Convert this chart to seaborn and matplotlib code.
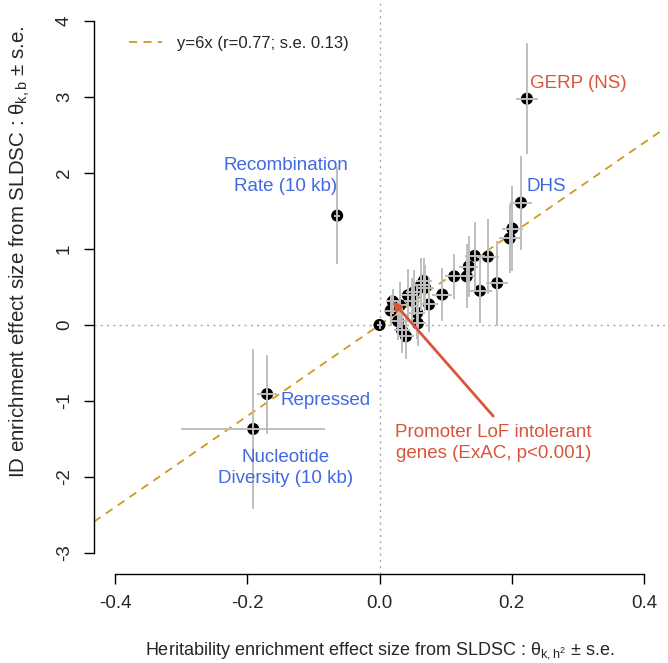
import matplotlib
matplotlib.use("Agg")
import matplotlib.pyplot as plt
import seaborn as sns
import numpy as np
import pandas as pd

# ---- data ----
h2_effect = [0.000, 0.020, 0.017, 0.028, 0.034, 0.040, 0.031, 0.043, 0.049, 0.057,
             0.058, 0.063, 0.069, 0.052, 0.067, 0.075, 0.095, 0.113, 0.132, 0.135,
             0.144, 0.164, 0.152, 0.178, 0.197, 0.201, 0.214, 0.223, -0.064, -0.170,
             -0.191]
h2_se = [0.004, 0.010, 0.010, 0.012, 0.012, 0.012, 0.012, 0.012, 0.012, 0.012,
         0.012, 0.012, 0.012, 0.012, 0.012, 0.014, 0.015, 0.014, 0.014, 0.014,
         0.015, 0.016, 0.018, 0.017, 0.016, 0.016, 0.016, 0.016, 0.005, 0.015,
         0.109]
id_effect = [0.00, 0.31, 0.19, 0.05, -0.07, -0.15, 0.26, 0.39, 0.32, 0.16,
             0.02, 0.53, 0.49, 0.43, 0.58, 0.27, 0.40, 0.64, 0.64, 0.77,
             0.91, 0.90, 0.45, 0.55, 1.14, 1.27, 1.61, 2.98, 1.44, -0.91,
             -1.37]
id_se = [0.05, 0.17, 0.20, 0.25, 0.30, 0.30, 0.30, 0.35, 0.30, 0.35,
         0.30, 0.35, 0.30, 0.30, 0.30, 0.36, 0.35, 0.30, 0.42, 0.40,
         0.45, 0.49, 0.43, 0.56, 0.45, 0.56, 0.62, 0.73, 0.64, 0.52,
         1.05]

fit_slope = 6
legend_label = "y=6x (r=0.77; s.e. 0.13)"

x_ticks = [-0.4, -0.2, 0.0, 0.2, 0.4]
x_tick_labels = ["-0.4", "-0.2", "0.0", "0.2", "0.4"]
y_ticks = [-3, -2, -1, 0, 1, 2, 3, 4]
y_tick_labels = ["-3", "-2", "-1", "0", "1", "2", "3", "4"]

blue_labels = [("Recombination\nRate (10 kb)", -0.142, 1.96),
               ("DHS", 0.252, 1.83),
               ("Repressed", -0.081, -0.99),
               ("Nucleotide\nDiversity (10 kb)", -0.142, -1.88)]
red_labels = [("GERP (NS)", 0.300, 3.18)]
promoter_label = "Promoter LoF intolerant\ngenes (ExAC, p<0.001)"
promoter_text_xy = (0.172, -1.55)
promoter_point = (0.020, 0.31)

df = pd.DataFrame({"h2": h2_effect, "h2_se": h2_se, "id": id_effect, "id_se": id_se})

# ---- style ----
sns.set_style("white")
plt.rcParams["font.family"] = ["Liberation Sans", "DejaVu Sans"]
plt.rcParams["mathtext.fontset"] = "custom"
plt.rcParams["mathtext.rm"] = "Liberation Sans"
plt.rcParams["mathtext.it"] = "Liberation Sans"

BLUE = "#4169E1"
RED = "#D9553B"
GOLD = "#CD9B1D"
GREY = "#BEBEBE"

fig = plt.figure(figsize=(6.68, 6.63), dpi=100)
ax = fig.add_axes([93.9 / 668, 89 / 663, (665.1 - 93.9) / 668, 574 / 663])
ax.set_xlim(-0.432, 0.432)
ax.set_ylim(-3.28, 4.28)

# reference lines
ax.axhline(0, color="#A8A8A8", lw=1.0, ls=(0, (1.5, 3)), zorder=1)
ax.axvline(0, color="#A8A8A8", lw=1.0, ls=(0, (1.5, 3)), zorder=1)

# fit line
ax.axline((0, 0), slope=fit_slope, color=GOLD, lw=1.3, ls=(0, (4.5, 3.5)), zorder=2,
          label=legend_label)

# points
sns.scatterplot(data=df, x="h2", y="id", ax=ax, color="black", s=75,
                edgecolor="none", zorder=3, legend=False)

# error bars on top
ax.errorbar(df["h2"], df["id"], xerr=df["h2_se"], yerr=df["id_se"], fmt="none",
            ecolor=GREY, elinewidth=1.4, capsize=0, zorder=4)

# annotations
for txt, x, y in blue_labels:
    ax.text(x, y, txt, color=BLUE, fontsize=13.5, ha="center", va="center",
            linespacing=1.3, zorder=5)
for txt, x, y in red_labels:
    ax.text(x, y, txt, color=RED, fontsize=13.5, ha="center", va="center", zorder=5)
ax.text(promoter_text_xy[0], promoter_text_xy[1], promoter_label, color=RED,
        fontsize=13.5, ha="center", va="center", linespacing=1.3, zorder=5)
ax.annotate("", xy=promoter_point, xytext=(0.172, -1.20),
            arrowprops=dict(arrowstyle="-|>", color=RED, lw=2.0,
                            mutation_scale=12, shrinkA=0, shrinkB=0), zorder=5)

# axes R style
for s in ["top", "right"]:
    ax.spines[s].set_visible(False)
for s in ["left", "bottom"]:
    ax.spines[s].set_color("black")
    ax.spines[s].set_linewidth(1.0)
ax.spines["left"].set_bounds(-3, 4)
ax.spines["bottom"].set_bounds(-0.4, 0.4)
ax.set_xticks(x_ticks)
ax.set_xticklabels(x_tick_labels)
ax.set_yticks(y_ticks)
ax.set_yticklabels(y_tick_labels, rotation=90, va="center")
ax.tick_params(axis="both", direction="out", length=7, width=1.0, color="black",
               labelsize=13.5, pad=8, left=True, bottom=True)

ax.set_xlabel(r"Heritability enrichment effect size from SLDSC : $\theta_{k,h^2}$" + " ± s.e.",
              fontsize=13, labelpad=20)
ax.set_ylabel(r"ID enrichment effect size from SLDSC : $\theta_{k,b}$" + " ± s.e.",
              fontsize=14.8)
ax.yaxis.set_label_coords((32 - 93.9) / 571.2, (574 - 252) / 574)

leg = ax.legend(loc="upper left", bbox_to_anchor=(129 / 668, 1 - 36 / 663),
                bbox_transform=fig.transFigure, frameon=False, fontsize=12,
                handlelength=2.0, handletextpad=0.9, borderpad=0, borderaxespad=0)

fig.savefig("out.png", dpi=100)
